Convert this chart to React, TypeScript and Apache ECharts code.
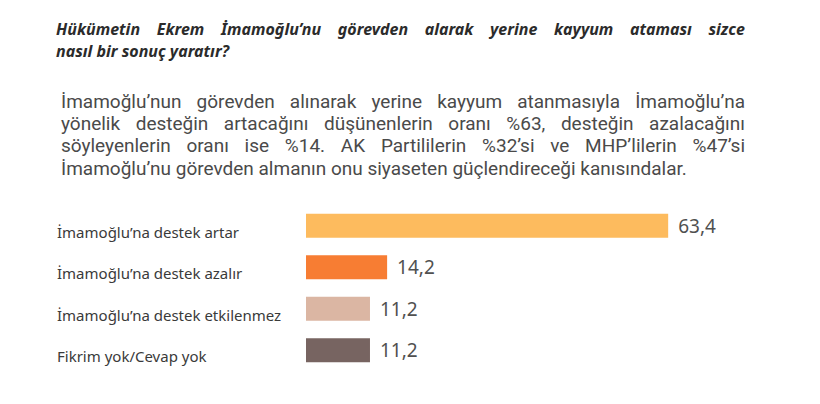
import React, { useEffect, useRef } from 'react';
import * as echarts from 'echarts';

const titleLines = [
	'Hükümetin Ekrem İmamoğlu’nu görevden alarak yerine kayyum ataması sizce',
	'nasıl bir sonuç yaratır?',
];

const paragraphLines = [
	'İmamoğlu’nun görevden alınarak yerine kayyum atanmasıyla İmamoğlu’na',
	'yönelik desteğin artacağını düşünenlerin oranı %63, desteğin azalacağını',
	'söyleyenlerin oranı ise %14. AK Partililerin %32’si ve MHP’lilerin %47’si',
	'İmamoğlu’nu görevden almanın onu siyaseten güçlendireceği kanısındalar.',
];

const categories = [
	'İmamoğlu’na destek artar',
	'İmamoğlu’na destek azalır',
	'İmamoğlu’na destek etkilenmez',
	'Fikrim yok/Cevap yok',
];
const values = [63.4, 14.2, 11.2, 11.2];
const barColors = ['#FDBB5E', '#F77D33', '#DBB6A3', '#776461'];

const FONT = '"Noto Sans", sans-serif';
const PARA_FONT = 'Roboto, sans-serif';

const ctx = document.createElement('canvas').getContext('2d') as CanvasRenderingContext2D;
const measure = (text: string, font: string) => {
	ctx.font = font;
	return ctx.measureText(text).width;
};

// one text per word so that a line can be justified like the source
function lineElements(line: string, x: number, yMid: number, width: number, justify: boolean, style: any) {
	const words = line.split(' ');
	const font = `${style.fontStyle || 'normal'} ${style.fontWeight || 'normal'} ${style.fontSize}px ${style.fontFamily}`;
	const widths = words.map((w) => measure(w, font));
	const total = widths.reduce((a, b) => a + b, 0);
	const space = measure(' ', font);
	const gap = justify && words.length > 1 ? Math.max(space * 0.6, (width - total) / (words.length - 1)) : space;
	let cx = x;
	return words.map((w, i) => {
		const el = {
			type: 'text',
			x: cx,
			y: yMid,
			style: { ...style, text: w, align: 'left', verticalAlign: 'middle' },
		};
		cx += widths[i] + gap;
		return el;
	});
}

const App: React.FC = () => {
	const chartContainer = useRef<HTMLDivElement | null>(null);

	useEffect(() => {
		if (!chartContainer.current) return;
		const chart = echarts.init(chartContainer.current, null, { renderer: 'svg' });

		const titleStyle = { fontSize: 16, lineHeight: 20, fontWeight: 'bold', fontStyle: 'italic', fontFamily: FONT, fill: '#2b2b2b' };
		const paraStyle = { fontSize: 19, lineHeight: 20, fontFamily: PARA_FONT, fill: '#4a4a4a' };

		const texts: any[] = [];
		titleLines.forEach((line, i) => {
			texts.push(...lineElements(line, 56, 29 + i * 22, 689, i < titleLines.length - 1, titleStyle));
		});
		paragraphLines.forEach((line, i) => {
			texts.push(...lineElements(line, 61, 101 + i * 22.4, 684, i < paragraphLines.length - 1, paraStyle));
		});

		const option: any = {
			animation: false,
			grid: {
				left: 306,
				top: 205,
				width: 457,
				height: 166,
				containLabel: false,
				outerBoundsMode: 'none',
			},
			xAxis: {
				type: 'value',
				min: 0,
				max: 80,
				show: false,
			},
			yAxis: {
				type: 'category',
				data: categories,
				inverse: true,
				axisLine: { show: false },
				axisTick: { show: false },
				splitLine: { show: false },
				axisLabel: {
					align: 'left',
					verticalAlign: 'top',
					lineHeight: 12,
					margin: 249,
					fontSize: 15,
					color: '#3a3a3a',
					fontFamily: FONT,
				},
			},
			series: [
				{
					type: 'bar',
					barWidth: 24,
					data: values.map((v, i) => ({ value: v, itemStyle: { color: barColors[i] } })),
					label: {
						show: true,
						position: 'right',
						distance: 10,
						fontSize: 19,
						color: '#505050',
						fontFamily: FONT,
						formatter: (p: any) => String(p.value).replace('.', ','),
					},
				},
			],
			graphic: { elements: texts },
		};

		chart.setOption(option);

		return () => {
			chart.dispose();
		};
	}, []);

	return (
		<div
			ref={chartContainer}
			style={{ position: 'absolute', left: 0, top: 0, width: '820px', height: '404px', background: '#fff' }}
		/>
	);
};

export default App;
